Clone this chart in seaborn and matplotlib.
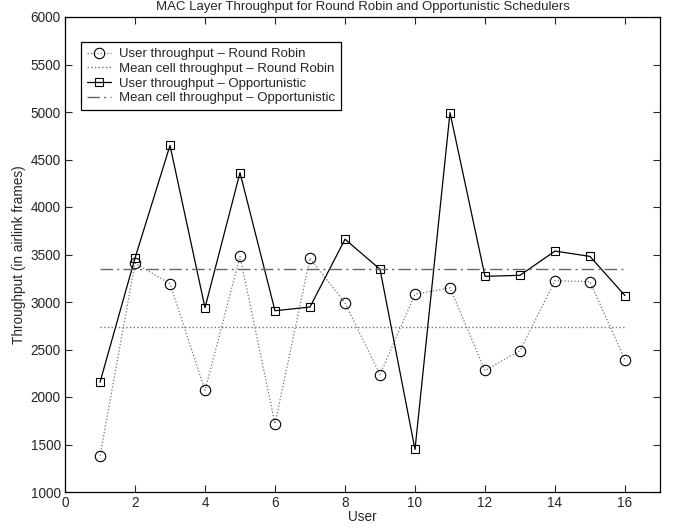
import numpy as np
import pandas as pd
import matplotlib
matplotlib.use('Agg')
import matplotlib.pyplot as plt
import seaborn as sns

# values
users = list(range(1, 17))
rr_throughput = [1380, 3409, 3192, 2069, 3480, 1718, 3462, 2989,
                 2236, 3082, 3149, 2279, 2488, 3224, 3213, 2389]
opp_throughput = [2155, 3462, 4648, 2940, 4361, 2908, 2947, 3661,
                  3345, 1448, 4993, 3270, 3281, 3536, 3480, 3067]

df = pd.DataFrame({'User': users, 'RR': rr_throughput, 'Opp': opp_throughput})
df['RR mean'] = df['RR'].mean()
df['Opp mean'] = df['Opp'].mean()

sns.set_style('ticks')
plt.rcParams['font.family'] = ['Liberation Sans', 'DejaVu Sans']
plt.rcParams['xtick.direction'] = 'in'
plt.rcParams['ytick.direction'] = 'in'

fig = plt.figure(figsize=(6.77, 5.28), dpi=100)
ax = fig.add_axes([65 / 677, 1 - 492 / 528, 595 / 677, 475 / 528])

sns.lineplot(data=df, x='User', y='RR', ax=ax, color='0.45', linestyle=':', linewidth=0.9,
             marker='o', markersize=7.5, markerfacecolor='none', markeredgecolor='black',
             markeredgewidth=0.8, label='User throughput \u2013 Round Robin')
sns.lineplot(data=df, x='User', y='RR mean', ax=ax, color='0.45', linestyle=':', linewidth=1.0,
             label='Mean cell throughput \u2013 Round Robin')
sns.lineplot(data=df, x='User', y='Opp', ax=ax, color='black', linestyle='-', linewidth=0.9,
             marker='s', markersize=6, markerfacecolor='none', markeredgecolor='black',
             markeredgewidth=0.8, label='User throughput \u2013 Opportunistic')
sns.lineplot(data=df, x='User', y='Opp mean', ax=ax, color='0.4', linestyle='-.', linewidth=1.0,
             dashes=False, label='Mean cell throughput \u2013 Opportunistic')
ax.lines[-1].set_linestyle((0, (9, 3, 1.5, 3)))

ax.set_xlim(0, 17)
ax.set_ylim(1000, 6000)
ax.set_xticks(range(0, 17, 2))
ax.set_yticks(range(1000, 6001, 500))
ax.tick_params(labelsize=9.8, top=True, right=True, length=5, width=0.8, pad=3)
for s in ax.spines.values():
    s.set_linewidth(0.9)
    s.set_color('black')

ax.set_xlabel('User', fontsize=9.8, labelpad=0)
ax.set_ylabel('Throughput (in airlink frames)', fontsize=9.8, labelpad=3)
ax.set_title('MAC Layer Throughput for Round Robin and Opportunistic Schedulers',
             fontsize=9.5, pad=5)

leg = ax.legend(loc='upper left', bbox_to_anchor=(0.027, 0.947), fontsize=9.5,
                frameon=True, fancybox=False, borderpad=0.45, labelspacing=0.18,
                handlelength=1.8, handletextpad=0.6, borderaxespad=0)
leg.get_frame().set_edgecolor('black')
leg.get_frame().set_linewidth(0.9)
leg.get_frame().set_alpha(1)

fig.savefig('out.png', dpi=100)
